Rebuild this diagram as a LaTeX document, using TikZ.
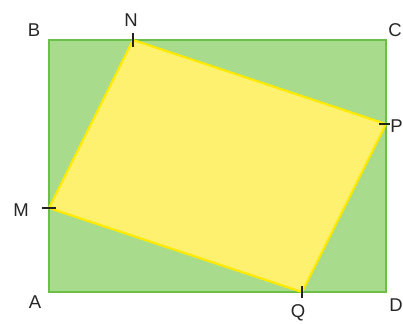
\documentclass[tikz,border=0pt]{standalone}
\usepackage{fontspec}
\setmainfont{Liberation Sans}
\usepackage{xcolor}
\usepackage{tikz}
\usetikzlibrary{calc, positioning}

\definecolor{rectfill}{HTML}{A9DB8C}
\definecolor{rectline}{HTML}{6CC04A}
\definecolor{quadfill}{HTML}{FFF170}
\definecolor{quadline}{HTML}{FFEA00}
\definecolor{tickcol}{HTML}{222222}

\begin{document}
\begin{tikzpicture}[
        x=1pt, y=-1pt,
        font=\fontsize{18.5}{18.5}\selectfont,
        lbl/.style={text=black!85, inner sep=0pt},
        tick/.style={draw=tickcol, line width=2pt},
        rect/.style={draw=rectline, line width=2.4pt, fill=rectfill},
        quad/.style={draw=quadline, line width=2.2pt, fill=quadfill, line join=round}
    ]
    \useasboundingbox (0,0) rectangle (403,323);

    % corners of the rectangle
    \coordinate (A) at (49,292);
    \coordinate (B) at (49,40);
    \coordinate (C) at (386,40);
    \coordinate (D) at (386,292);

    % points on the sides
    \coordinate (N) at (133,40);
    \coordinate (P) at (386,124);
    \coordinate (Q) at (302,292);
    \coordinate (M) at (49,208);

    \draw[rect] (A) -- (B) -- (C) -- (D) -- cycle;
    \draw[quad] (M) -- (N) -- (P) -- (Q) -- cycle;

    % small marks
    \draw[tick] ($(N)+(0,-7)$) -- ($(N)+(0,7)$);
    \draw[tick] ($(P)+(-7,0)$) -- ($(P)+(4,0)$);
    \draw[tick] ($(Q)+(0,-6)$) -- ($(Q)+(0,6)$);
    \draw[tick] ($(M)+(-7,0)$) -- ($(M)+(7,0)$);

    \node[lbl] (labB) at (34,30) {B};
    \node[lbl] (labC) at (395,30) {C};
    \node[lbl] (labA) at (35,302) {A};
    \node[lbl] (labD) at (396,305) {D};
    \node[lbl] (labN) at (131,20) {N};
    \node[lbl] (labP) at (396.5,126) {P};
    \node[lbl] (labQ) at (298,313) {Q};
    \node[lbl] (labM) at (21,210) {M};
\end{tikzpicture}
\end{document}
